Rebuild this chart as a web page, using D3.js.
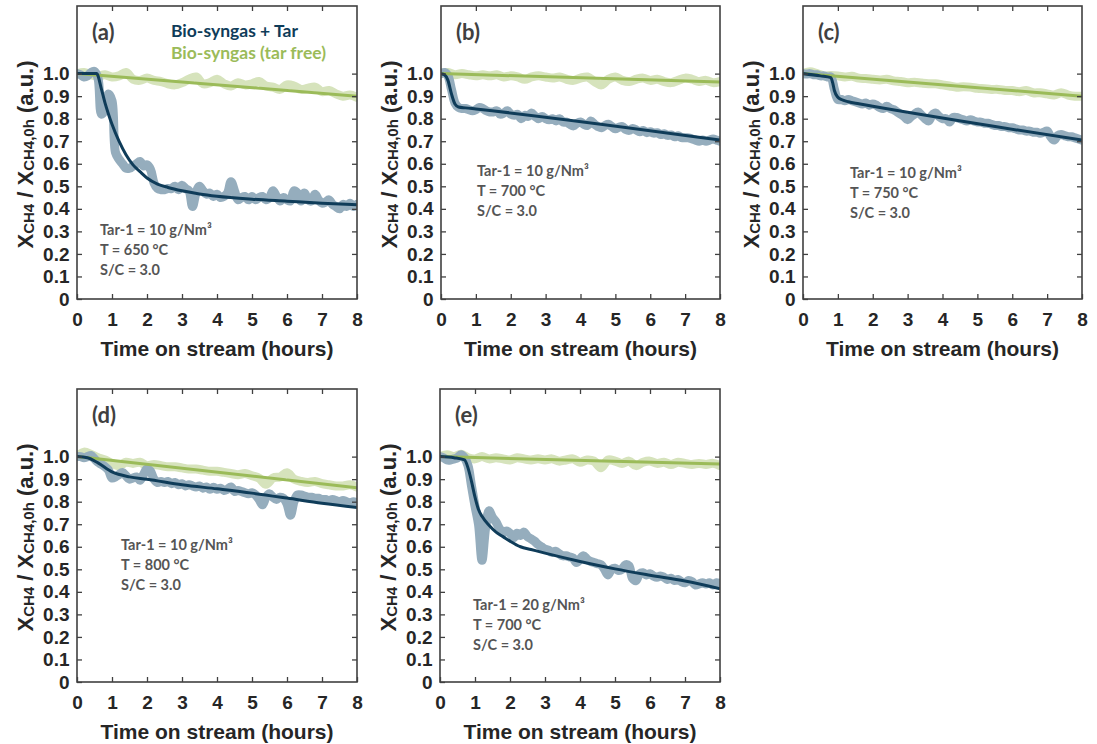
<!DOCTYPE html>
<html>
<head>
<meta charset="utf-8"/>
<title>CH4 conversion vs time on stream</title>
<script src="https://d3js.org/d3.v7.min.js"></script>
<style>
  body { margin: 0; background: #fff; }
  .tick text { font-family: "Liberation Sans", Arial, sans-serif; font-weight: bold; font-size: 19px; fill: #262626; }
  .tick line { stroke: #404040; stroke-width: 1.3; }
</style>
</head>
<body>
<div id="chart"></div>
<script>
// time grids (hours)
var tBlue = [0,0.1,0.2,0.3,0.4,0.5,0.6,0.7,0.8,0.9,
             1,1.1,1.2,1.3,1.4,1.5,1.6,1.7,1.8,1.9,
             2,2.1,2.2,2.3,2.4,2.5,2.6,2.7,2.8,2.9,
             3,3.1,3.2,3.3,3.4,3.5,3.6,3.7,3.8,3.9,
             4,4.1,4.2,4.3,4.4,4.5,4.6,4.7,4.8,4.9,
             5,5.1,5.2,5.3,5.4,5.5,5.6,5.7,5.8,5.9,
             6,6.1,6.2,6.3,6.4,6.5,6.6,6.7,6.8,6.9,
             7,7.1,7.2,7.3,7.4,7.5,7.6,7.7,7.8,7.9,
             8];
var tGreen = [0,0.2,0.4,0.6,0.8,1,1.2,1.4,1.6,1.8,
              2,2.2,2.4,2.6,2.8,3,3.2,3.4,3.6,3.8,
              4,4.2,4.4,4.6,4.8,5,5.2,5.4,5.6,5.8,
              6,6.2,6.4,6.6,6.8,7,7.2,7.4,7.6,7.8,
              8];

// measured X_CH4 / X_CH4,0h, bio-syngas + tar
var blueA = [1.0,0.995,0.985,0.99,1.005,1.01,0.98,0.82,0.84,0.91,
             0.88,0.65,0.62,0.60,0.58,0.58,0.59,0.60,0.61,0.59,
             0.595,0.575,0.515,0.49,0.485,0.485,0.49,0.49,0.50,0.485,
             0.505,0.49,0.48,0.41,0.47,0.50,0.48,0.465,0.47,0.455,
             0.465,0.45,0.455,0.47,0.52,0.48,0.44,0.45,0.455,0.44,
             0.455,0.44,0.45,0.455,0.44,0.45,0.48,0.455,0.435,0.45,
             0.44,0.435,0.48,0.47,0.435,0.47,0.44,0.435,0.465,0.44,
             0.425,0.43,0.44,0.42,0.41,0.40,0.42,0.41,0.425,0.41,
             0.42];
var blueB = [1.0,1.005,0.99,0.93,0.87,0.85,0.845,0.845,0.84,0.835,
             0.84,0.85,0.845,0.835,0.83,0.83,0.835,0.82,0.825,0.835,
             0.82,0.815,0.82,0.80,0.815,0.81,0.825,0.81,0.80,0.81,
             0.80,0.795,0.80,0.79,0.80,0.785,0.785,0.775,0.768,0.78,
             0.785,0.775,0.77,0.79,0.775,0.765,0.76,0.77,0.775,0.765,
             0.755,0.762,0.765,0.752,0.748,0.757,0.75,0.742,0.748,0.738,
             0.742,0.736,0.738,0.73,0.733,0.726,0.728,0.72,0.724,0.716,
             0.715,0.715,0.71,0.705,0.70,0.705,0.70,0.705,0.71,0.705,
             0.70];
var blueC = [1.0,0.998,1.0,0.995,0.995,0.99,0.99,0.985,0.985,0.93,
             0.885,0.885,0.88,0.885,0.88,0.875,0.87,0.865,0.87,0.86,
             0.865,0.86,0.85,0.845,0.855,0.845,0.84,0.83,0.82,0.81,
             0.795,0.81,0.82,0.83,0.815,0.80,0.79,0.815,0.825,0.81,
             0.80,0.80,0.785,0.805,0.805,0.80,0.795,0.79,0.795,0.79,
             0.785,0.785,0.78,0.78,0.775,0.77,0.77,0.765,0.765,0.76,
             0.76,0.755,0.75,0.75,0.745,0.745,0.74,0.74,0.735,0.74,
             0.745,0.72,0.705,0.725,0.73,0.725,0.72,0.72,0.715,0.71,
             0.705];
var blueD = [1.0,1.0,0.995,1.0,1.005,0.99,0.975,0.965,0.955,0.94,
             0.905,0.91,0.92,0.93,0.915,0.90,0.905,0.91,0.895,0.92,
             0.945,0.935,0.90,0.885,0.89,0.885,0.89,0.88,0.885,0.875,
             0.88,0.87,0.875,0.87,0.865,0.87,0.86,0.865,0.855,0.864,
             0.855,0.86,0.85,0.855,0.865,0.845,0.85,0.845,0.84,0.835,
             0.84,0.83,0.81,0.786,0.82,0.835,0.82,0.81,0.82,0.815,
             0.79,0.74,0.80,0.83,0.83,0.825,0.82,0.82,0.815,0.815,
             0.81,0.81,0.805,0.81,0.805,0.80,0.805,0.80,0.795,0.80,
             0.795];
var blueE = [1.0,0.995,0.985,0.985,0.99,0.995,1.008,0.995,0.96,0.87,
             0.78,0.70,0.54,0.68,0.76,0.73,0.71,0.68,0.66,0.67,
             0.66,0.64,0.66,0.65,0.665,0.645,0.635,0.625,0.61,0.60,
             0.59,0.585,0.575,0.58,0.57,0.56,0.56,0.555,0.55,0.53,
             0.545,0.56,0.545,0.535,0.53,0.525,0.52,0.50,0.475,0.50,
             0.505,0.495,0.50,0.52,0.515,0.46,0.45,0.48,0.485,0.475,
             0.48,0.47,0.465,0.47,0.465,0.455,0.46,0.45,0.455,0.445,
             0.44,0.45,0.445,0.43,0.435,0.44,0.435,0.44,0.43,0.44,
             0.435];

// measured X_CH4 / X_CH4,0h, tar-free bio-syngas
var greenA = [1.0,1.005,0.995,0.99,0.995,0.985,0.99,1.005,0.975,0.97,
              0.98,0.97,0.965,0.955,0.95,0.96,0.975,0.985,0.955,0.96,
              0.975,0.955,0.945,0.96,0.95,0.955,0.965,0.945,0.94,0.93,
              0.95,0.945,0.93,0.935,0.94,0.92,0.925,0.91,0.90,0.905,
              0.895];
var greenB = [1.0,1.005,0.995,1.0,0.995,0.99,0.995,0.99,0.995,0.985,
              0.99,0.985,0.975,0.985,0.99,0.985,0.98,0.985,0.975,0.97,
              0.98,0.985,0.965,0.95,0.975,0.985,0.97,0.965,0.975,0.98,
              0.97,0.975,0.965,0.96,0.97,0.98,0.975,0.965,0.97,0.96,
              0.965];
var greenC = [1.0,1.008,1.0,0.99,0.992,0.99,0.985,0.988,0.98,0.978,
              0.975,0.972,0.975,0.968,0.965,0.96,0.962,0.958,0.955,0.955,
              0.95,0.945,0.94,0.942,0.94,0.935,0.933,0.93,0.93,0.925,
              0.925,0.92,0.925,0.915,0.915,0.91,0.905,0.915,0.905,0.9,
              0.9];
var greenD = [1.0,1.02,1.01,0.995,0.985,0.97,0.96,0.975,0.97,0.975,
              0.96,0.965,0.96,0.955,0.955,0.95,0.945,0.945,0.94,0.935,
              0.935,0.93,0.925,0.92,0.925,0.915,0.905,0.877,0.905,0.91,
              0.928,0.90,0.89,0.885,0.89,0.88,0.875,0.87,0.87,0.875,
              0.865];
var greenE = [1.0,1.008,1.0,1.01,0.995,0.99,1.0,0.99,0.995,0.99,
              0.985,0.995,0.99,0.985,0.99,0.985,0.99,0.98,0.985,0.99,
              0.975,0.985,0.98,0.951,0.985,0.98,0.97,0.98,0.96,0.975,
              0.98,0.97,0.975,0.965,0.975,0.97,0.965,0.97,0.965,0.97,
              0.96];

// fitted trends (bio-syngas + tar)
var fitBlueTA = [0,0.56,0.7,0.8,0.9,1.0,1.2,1.4,1.6,1.8,2.0,2.3,2.6,3.0,3.5,4,5,6,7,8];
var fitBlueVA = [1.0,1.0,0.93,0.87,0.82,0.775,0.70,0.64,0.595,0.565,0.537,0.51,0.495,0.48,0.466,0.456,0.443,0.434,0.425,0.418];
var fitBlueTB = [0,0.1,0.2,0.3,0.4,0.5,0.7,1,8];
var fitBlueVB = [1.0,0.995,0.97,0.91,0.865,0.852,0.848,0.843,0.705];
var fitBlueTC = [0,0.5,0.8,0.85,0.9,1.0,1.1,1.3,1.6,2,8];
var fitBlueVC = [1.0,0.99,0.982,0.96,0.925,0.895,0.885,0.875,0.866,0.855,0.705];
var fitBlueTD = [0,0.3,0.6,1,1.5,2,3,4,5,6,7,8];
var fitBlueVD = [1.0,0.995,0.972,0.932,0.91,0.9,0.875,0.857,0.838,0.816,0.793,0.774];
var fitBlueTE = [0,0.4,0.7,0.8,0.9,1.0,1.1,1.2,1.4,1.6,1.8,2.0,2.3,2.6,3.0,3.5,4,5,6,7,8];
var fitBlueVE = [1.0,0.995,0.985,0.95,0.89,0.82,0.765,0.735,0.695,0.665,0.645,0.625,0.60,0.588,0.572,0.553,0.535,0.502,0.474,0.448,0.414];

// fitted trends (tar free): straight lines from t=0 to t=8
var fitGreenT = [0,8];
var fitGreenVA = [1.0,0.90];
var fitGreenVB = [1.0,0.963];
var fitGreenVC = [1.0,0.90];
var fitGreenVD = [1.0,0.862];
var fitGreenVE = [1.0,0.967];

// panel letters and operating conditions
var panelLetters = ["(a)","(b)","(c)","(d)","(e)"];
var tarLoad = ["10","10","10","10","20"];
var temps = ["650","700","750","800","700"];
var steamCarbon = ["3.0","3.0","3.0","3.0","3.0"];
var legendLabels = ["Bio-syngas + Tar","Bio-syngas (tar free)"];
var yTicks = [0,0.1,0.2,0.3,0.4,0.5,0.6,0.7,0.8,0.9,1.0];
var xTicks = [0,1,2,3,4,5,6,7,8];

var blueData = [blueA, blueB, blueC, blueD, blueE];
var greenData = [greenA, greenB, greenC, greenD, greenE];
var fitBlueT = [fitBlueTA, fitBlueTB, fitBlueTC, fitBlueTD, fitBlueTE];
var fitBlueV = [fitBlueVA, fitBlueVB, fitBlueVC, fitBlueVD, fitBlueVE];
var fitGreenV = [fitGreenVA, fitGreenVB, fitGreenVC, fitGreenVD, fitGreenVE];

// layout of the five panels (plot area boxes)
var boxes = [
  {left: 77, top: 6, w: 280}, {left: 441, top: 6, w: 279}, {left: 803, top: 6, w: 279},
  {left: 77, top: 389, w: 280}, {left: 440, top: 389, w: 280}
];
// text offsets from each box
var noteOffsets = [[23, 229], [36, 170], [47, 172], [44, 161], [33, 221]];

var colBand = "#95adbd", colLine = "#0f3c59",
    colGreenBand = "#d6e3bc", colGreenLine = "#9bbb59",
    frameCol = "#404040", noteCol = "#555555";

var svg = d3.select("#chart").append("svg")
    .attr("width", 1097).attr("height", 744)
    .style("background", "#fff");

var ph = 293;

boxes.forEach(function(b, i) {
  var x = d3.scaleLinear().domain([0, 8]).range([0, b.w]);
  var y = d3.scaleLinear().domain([0, 1.3]).range([ph, 0]);

  var g = svg.append("g").attr("transform", "translate(" + b.left + "," + b.top + ")");

  g.append("clipPath").attr("id", "clip" + i)
    .append("rect").attr("width", b.w).attr("height", ph);

  var rough = d3.line().curve(d3.curveCatmullRom.alpha(0.5))
      .x(function(d) { return x(d[0]); }).y(function(d) { return y(d[1]); });
  var smooth = d3.line().curve(d3.curveMonotoneX)
      .x(function(d) { return x(d[0]); }).y(function(d) { return y(d[1]); });

  var plot = g.append("g").attr("clip-path", "url(#clip" + i + ")");

  // raw measurement bands
  plot.append("path")
    .attr("d", rough(d3.zip(tGreen, greenData[i])))
    .attr("fill", "none").attr("stroke", colGreenBand)
    .attr("stroke-width", 9).attr("stroke-linejoin", "round").attr("stroke-linecap", "round");
  plot.append("path")
    .attr("d", rough(d3.zip(tBlue, blueData[i])))
    .attr("fill", "none").attr("stroke", colBand)
    .attr("stroke-width", 9).attr("stroke-linejoin", "round").attr("stroke-linecap", "round");

  // fitted trend lines
  plot.append("path")
    .attr("d", smooth(d3.zip(fitGreenT, fitGreenV[i])))
    .attr("fill", "none").attr("stroke", colGreenLine).attr("stroke-width", 3);
  plot.append("path")
    .attr("d", smooth(d3.zip(fitBlueT[i], fitBlueV[i])))
    .attr("fill", "none").attr("stroke", colLine).attr("stroke-width", 3);

  // axes, ticks pointing inward on all four sides
  g.append("g")
    .call(d3.axisLeft(y).tickValues(yTicks).tickSize(-5).tickPadding(7.5)
      .tickFormat(function(d) { return d === 0 ? "0" : d.toFixed(1); }))
    .call(function(s) { s.select(".domain").remove(); });
  g.append("g").attr("transform", "translate(" + b.w + ",0)")
    .call(d3.axisRight(y).tickValues(yTicks.slice(1)).tickSize(-5).tickFormat(""))
    .call(function(s) { s.select(".domain").remove(); });
  g.append("g").attr("transform", "translate(0," + ph + ")")
    .call(d3.axisBottom(x).tickValues(xTicks).tickSize(-5).tickPadding(14))
    .call(function(s) { s.select(".domain").remove(); });
  g.append("g")
    .call(d3.axisTop(x).tickValues(xTicks.slice(1, 8)).tickSize(-5).tickFormat(""))
    .call(function(s) { s.select(".domain").remove(); });

  g.append("rect").attr("width", b.w).attr("height", ph)
    .attr("fill", "none").attr("stroke", frameCol).attr("stroke-width", 1.6);

  // axis titles
  g.append("text")
    .attr("x", b.w / 2).attr("y", ph + 57)
    .attr("text-anchor", "middle")
    .style("font-family", "'Liberation Sans', Arial, sans-serif")
    .style("font-weight", "bold").style("font-size", "21px").style("fill", "#262626")
    .text("Time on stream (hours)");

  var yl = g.append("text")
    .attr("transform", "translate(-44," + (ph / 2 + 2) + ") rotate(-90)")
    .attr("text-anchor", "middle")
    .style("font-family", "'Liberation Sans', Arial, sans-serif")
    .style("font-weight", "bold").style("font-size", "22px").style("fill", "#262626");
  yl.append("tspan").text("X");
  yl.append("tspan").style("font-size", "15px").attr("dy", 1).text("CH4");
  yl.append("tspan").attr("dy", -1).text(" / X");
  yl.append("tspan").style("font-size", "15px").attr("dy", 1).text("CH4,0h");
  yl.append("tspan").attr("dy", -1).text(" (a.u.)");

  // panel letter
  g.append("text")
    .attr("x", 15).attr("y", 34)
    .style("font-family", "Lato, 'Open Sans', sans-serif")
    .style("font-weight", "bold").style("font-size", "22px").style("fill", "#404040")
    .text(panelLetters[i]);

  // operating conditions
  var notes = ["Tar-1 = " + tarLoad[i] + " g/Nm\u00b3", "T = " + temps[i] + " \u00b0C", "S/C = " + steamCarbon[i]];
  notes.forEach(function(t, k) {
    g.append("text")
      .attr("x", noteOffsets[i][0]).attr("y", noteOffsets[i][1] + 20 * k)
      .style("font-family", "Lato, 'Open Sans', sans-serif")
      .style("font-weight", "bold").style("font-size", "14.5px").style("fill", noteCol)
      .text(t);
  });

  // legend only in first panel
  if (i === 0) {
    [colLine, colGreenLine].forEach(function(c, k) {
      g.append("text")
        .attr("x", 94).attr("y", 31 + 22 * k)
        .style("font-family", "Lato, 'Open Sans', sans-serif")
        .style("font-weight", "bold").style("font-size", "17.5px").style("fill", c)
        .text(legendLabels[k]);
    });
  }
});
</script>
</body>
</html>
